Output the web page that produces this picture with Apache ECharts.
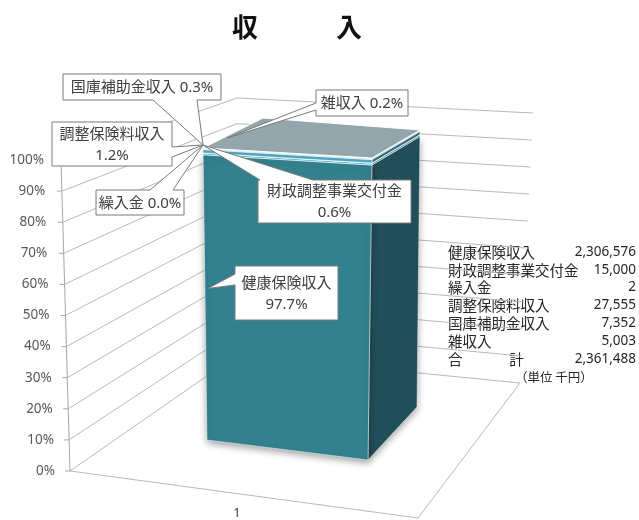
<!DOCTYPE html>
<html><head><meta charset="utf-8">
<script src="https://cdn.jsdelivr.net/npm/echarts@6/dist/echarts.min.js"></script>
<style>html,body{margin:0;padding:0;background:#fff}#c{width:639px;height:520px}</style>
</head><body><div id="c"></div>
<script>
// ---- data ----
const categories = ['1'];
const seriesNames = ['健康保険収入', '財政調整事業交付金', '繰入金', '調整保険料収入', '国庫補助金収入', '雑収入'];
const seriesValues = [2306576, 15000, 2, 27555, 7352, 5003]; // 千円
const yTickValues = [0, 10, 20, 30, 40, 50, 60, 70, 80, 90, 100];
const titleText = '収　　　入';
const totalLabel = '合　　　 計';
const unitLabel = '（単位 千円）';

// ---- derived ----
const total = seriesValues.reduce((a, b) => a + b, 0);
const pct = seriesValues.map(v => v / total * 100);
const cum = [];
(function () { let acc = 0; pct.forEach(p => { cum.push([acc, acc + p]); acc += p; }); })();
const fmt = n => n.toLocaleString('en-US');

// ---- geometry / style (layout only) ----
const lerp = (a, b, t) => a + (b - a) * t;
const BAR = { FL: [[-30, 440], [-34, 148]], FR: [[131, 460], [135, 158]], BR: [[180, 407], [183, 130]], BL: [[21, 390], [26, 118]] };
const corner = (c, cx, t) => [cx + lerp(c[0][0], c[1][0], t), lerp(c[0][1], c[1][1], t)];
const FACE = [
  { front: '#33808f', side: '#234f5b' },
  { front: '#5cb4ca', side: '#3e8192' },
  { front: '#8fd0e0', side: '#5a94a3' },
  { front: '#4ba7bf', side: '#2f6b7a' },
  { front: '#7cc3d6', side: '#4e8896' },
  { front: '#a7bbc1', side: '#6e8187', top: '#93a6ab' }
];
const CALLOUT = [
  { box: [235, 266, 103, 54], side: 'left', a: [274, 285], at: 'mid', off: [3, -9], sep: '\n' },
  { box: [258, 180, 153, 43], side: 'top', a: [260, 313], at: 'top', off: [0, -3], sep: '\n' },
  { box: [96, 190, 88, 25], side: 'top', a: [150, 173], at: 'top', off: [0, -3], sep: ' ' },
  { box: [52, 122, 120, 44], side: 'right', a: [147, 157], at: 'top', off: [0, -3], sep: '\n' },
  { box: [63, 74, 158, 26], side: 'bottom', a: [153, 197], at: 'top', off: [0, -3], sep: ' ' },
  { box: [316, 90, 92, 26], side: 'left', a: [103, 110], at: 'top', off: [24, -10], sep: ' ' }
];

function frac(api, v) {
  const y0 = api.coord([0, 0])[1], y1 = api.coord([0, 100])[1];
  return (y0 - api.coord([0, v])[1]) / (y0 - y1);
}

function wallRender(params, api) {
  const v = api.value(1);
  const t = frac(api, v);
  const y = api.coord([0, v])[1];
  const xf = lerp(70, 61, t);
  const bl = [237, lerp(355, 98, t)];
  const br = [lerp(520, 533, t), lerp(383, 113, t)];
  const st = { stroke: '#b9b9b9', lineWidth: 1, fill: null };
  const ch = [
    { type: 'polyline', shape: { points: [[xf, y], bl, br] }, style: st },
    { type: 'line', shape: { x1: xf - 5, y1: y, x2: xf, y2: y }, style: { stroke: '#a6a6a6', lineWidth: 1 } }
  ];
  if (params.dataIndex === 0) {
    const top = api.coord([0, 100])[1];
    ch.push({ type: 'line', shape: { x1: 70, y1: y, x2: 61, y2: top }, style: { stroke: '#a6a6a6', lineWidth: 1 } });
    ch.push({ type: 'polyline', shape: { points: [[70, y], [418, 518], [520, 383]] }, style: st });
  }
  return { type: 'group', children: ch };
}

function barRender(i) {
  return function (params, api) {
    const cx = api.coord([api.value(0), 0])[0];
    const t0 = frac(api, api.value(1)), t1 = frac(api, api.value(2));
    const fl0 = corner(BAR.FL, cx, t0), fr0 = corner(BAR.FR, cx, t0), br0 = corner(BAR.BR, cx, t0);
    const fl1 = corner(BAR.FL, cx, t1), fr1 = corner(BAR.FR, cx, t1), br1 = corner(BAR.BR, cx, t1), bl1 = corner(BAR.BL, cx, t1);
    const f = FACE[i];
    const main = i === 0;
    const stroke = main ? 'rgba(255,255,255,0.6)' : '#ffffff';
    const lw = main ? 0.8 : 0.6;
    const sh = main ? { shadowBlur: 7, shadowColor: 'rgba(0,0,0,0.35)', shadowOffsetX: 0, shadowOffsetY: 3 } : {};
    const ch = [
      { type: 'polygon', shape: { points: [fr0, br0, br1, fr1] }, style: Object.assign({ fill: f.side, stroke: stroke, lineWidth: lw }, sh) },
      { type: 'polygon', shape: { points: [fl0, fr0, fr1, fl1] }, style: Object.assign({ fill: f.front, stroke: stroke, lineWidth: lw }, sh) }
    ];
    if (i === seriesNames.length - 1) {
      ch.push({ type: 'polygon', shape: { points: [fl1, fr1, br1, bl1] }, style: { fill: f.top || f.front, stroke: '#ffffff', lineWidth: 1 } });
    }
    return { type: 'group', children: ch };
  };
}

function calloutPoints(b, tip, side, a1, a2) {
  const L = b[0], T = b[1], R = b[0] + b[2], B = b[1] + b[3];
  const p = [[L, T]];
  if (side === 'top') p.push([a1, T], tip, [a2, T]);
  p.push([R, T]);
  if (side === 'right') p.push([R, a1], tip, [R, a2]);
  p.push([R, B]);
  if (side === 'bottom') p.push([a2, B], tip, [a1, B]);
  p.push([L, B]);
  if (side === 'left') p.push([L, a2], tip, [L, a1]);
  return p;
}

function calloutRender(params, api) {
  const i = api.value(3);
  const c = CALLOUT[i];
  const cx = api.coord([api.value(0), 0])[0];
  const t0 = frac(api, api.value(1)), t1 = frac(api, api.value(2));
  const base = corner(BAR.FL, cx, c.at === 'mid' ? (t0 + t1) / 2 : 1);
  const tip = [base[0] + c.off[0], base[1] + c.off[1]];
  const label = seriesNames[i] + c.sep + pct[i].toFixed(1) + '%';
  return {
    type: 'group', children: [
      { type: 'polygon', shape: { points: calloutPoints(c.box, tip, c.side, c.a[0], c.a[1]) },
        style: { fill: '#ffffff', stroke: '#7a7a7a', lineWidth: 1 } },
      { type: 'text', style: { text: label, x: c.box[0] + c.box[2] / 2, y: c.box[1] + c.box[3] / 2 + 1,
        align: 'center', verticalAlign: 'middle', fill: '#404040', lineHeight: 21,
        font: "15px 'Noto Sans', 'Noto Sans CJK JP'" } }
    ]
  };
}

// ---- table graphic (built from arrays) ----
const tableRows = seriesNames.map((n, i) => [n, fmt(seriesValues[i])]).concat([[totalLabel, fmt(total)]]);
const graphic = [];
tableRows.forEach((r, k) => {
  const y = 254 + k * 17.8;
  graphic.push({ type: 'text', left: 448, top: y - 9, style: { text: r[0], fill: '#262626', font: "14.5px 'Noto Sans CJK JP'" } });
  graphic.push({ type: 'text', right: 3, top: y - 9, style: { text: r[1], fill: '#262626', font: "13.5px 'Noto Sans'" } });
});
graphic.push({ type: 'text', left: 515, top: 371, style: { text: unitLabel, fill: '#262626', font: "12.5px 'Noto Sans CJK JP'" } });

const chart = echarts.init(document.getElementById('c'), null, { renderer: 'canvas', width: 639, height: 520 });
const series = [
  { type: 'custom', z: 1, silent: true, renderItem: wallRender, data: yTickValues.map(v => [0, v]) }
];
seriesNames.forEach((n, i) => {
  series.push({ type: 'custom', name: n, z: 2, silent: true, renderItem: barRender(i), data: [[0, cum[i][0], cum[i][1]]] });
});
series.push({ type: 'custom', z: 5, silent: true, renderItem: calloutRender, data: seriesNames.map((n, i) => [0, cum[i][0], cum[i][1], i]) });

chart.setOption({
  animation: false,
  backgroundColor: '#ffffff',
  title: { text: titleText, left: 227, top: 9, textStyle: { fontSize: 26, fontWeight: 'bold', color: '#111', fontFamily: 'Noto Sans CJK JP' } },
  grid: { left: 70, right: 235, top: 160, bottom: 47 },
  xAxis: { type: 'category', data: categories, axisLine: { show: false }, axisTick: { show: false },
    axisLabel: { margin: 36, fontSize: 13, color: '#404040', fontFamily: 'Noto Sans' } },
  yAxis: { type: 'value', min: 0, max: 100, interval: 10, axisLine: { show: false }, axisTick: { show: false }, splitLine: { show: false },
    axisLabel: { margin: 15, formatter: v => '{p' + v + '|' + v + '%}',
      rich: Object.fromEntries(yTickValues.map(v => ['p' + v, { padding: [0, v / 100 * 11, 0, 0], fontSize: 13.5, color: '#595959', fontFamily: 'Noto Sans' }])) } },
  graphic: graphic,
  series: series
});
</script>
</body></html>
